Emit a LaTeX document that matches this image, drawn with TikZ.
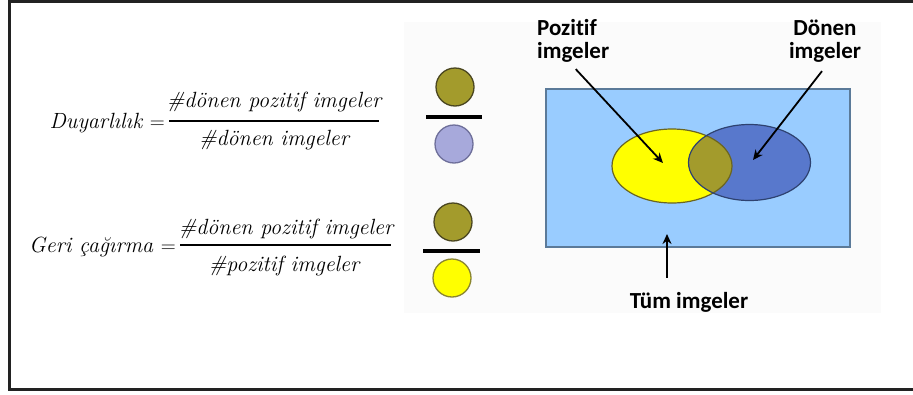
\documentclass[tikz,border=0pt]{standalone}
\usepackage{fontspec}
\newfontfamily\lblfont[Ligatures={NoCommon,NoContextual}]{Carlito}
\usetikzlibrary{arrows.meta}
\definecolor{framegray}{HTML}{222222}
\definecolor{panelbg}{HTML}{FBFBFB}
\definecolor{ovfill}{HTML}{A39B2C}
\definecolor{ovline}{HTML}{4A4620}
\definecolor{lavfill}{HTML}{A7A9DB}
\definecolor{lavline}{HTML}{6E6F9A}
\definecolor{yelfill}{HTML}{FFFF00}
\definecolor{yelline}{HTML}{8A8530}
\definecolor{allfill}{HTML}{99CCFF}
\definecolor{allline}{HTML}{5B7A99}
\definecolor{retfill}{HTML}{5878CC}
\definecolor{retline}{HTML}{2E4270}
\definecolor{posline}{HTML}{6B6520}
\begin{document}
\begin{tikzpicture}[x=1pt,y=-1pt,
  fml/.style={font=\fontsize{22}{24}\selectfont\itshape, inner sep=0pt},
  lbl/.style={font=\lblfont\bfseries\fontsize{23}{23}\selectfont, inner sep=0pt},
  arr/.style={draw=black, line width=1.8pt, -{Stealth[length=10pt,width=9pt]}},
  fbar/.style={line width=1.2pt},
  sbar/.style={line width=4pt},
  token/.style={circle, minimum size=38pt, inner sep=0pt, line width=1.3pt}]
\useasboundingbox (0,0) rectangle (913,394);

% outer frame
\draw[line width=3pt, draw=framegray] (9.5,1.5) rectangle (930,389.5);

% faint panel behind the circles and the Venn diagram
\fill[panelbg] (404,22) rectangle (881,313);

% --- precision ---
\node[fml, anchor=base east] (prlab) at (165,128) {Duyarlılık $=$};
\node[fml, anchor=base] (prnum) at (274,107) {\#dönen pozitif imgeler};
\node[fml, anchor=base] (prden) at (274,145) {\#dönen imgeler};
\draw[fbar] (169,121) -- (379,121);

% --- recall ---
\node[fml, anchor=base east] (rclab) at (176,252) {Geri çağırma $=$};
\node[fml, anchor=base] (rcnum) at (286,234) {\#dönen pozitif imgeler};
\node[fml, anchor=base] (rcden) at (284,271) {\#pozitif imgeler};
\draw[fbar] (180,245) -- (391,245);

% --- coloured fraction tokens ---
\node[token, fill=ovfill, draw=ovline] (t1) at (455,87) {};
\draw[sbar] (426,117) -- (482,117);
\node[token, fill=lavfill, draw=lavline] (t2) at (454,144) {};
\node[token, fill=ovfill, draw=ovline] (t3) at (453,222) {};
\draw[sbar] (423,251) -- (480,251);
\node[token, fill=yelfill, draw=yelline] (t4) at (452,278) {};

% --- Venn diagram ---
\draw[fill=allfill, draw=allline, line width=1.2pt] (546,89) rectangle (850,247);
\fill[yelfill] (672,166) ellipse [x radius=60pt, y radius=37pt];
\fill[retfill] (749.5,162.5) ellipse [x radius=61pt, y radius=38pt];
\begin{scope}
  \clip (672,166) ellipse [x radius=60pt, y radius=37pt];
  \fill[ovfill] (749.5,162.5) ellipse [x radius=61pt, y radius=38pt];
\end{scope}
\draw[posline, line width=1.2pt] (672,166) ellipse [x radius=60pt, y radius=37pt];
\draw[retline, line width=1.2pt] (749.5,162.5) ellipse [x radius=61pt, y radius=38pt];

% labels (a multi-line node sits on the baseline of its last line)
\node[lbl, align=left, anchor=base west] (poz) at (537,58) {Pozitif\\imgeler};
\node[lbl, align=center, anchor=base] (don) at (825,58) {Dönen\\imgeler};
\node[lbl, anchor=base] (tum) at (689,308) {Tüm imgeler};

% arrow tips inside the regions
\coordinate (poztip) at (663,163);
\coordinate (dontip) at (753,160);
\coordinate (tumtip) at (667,234);

\draw[arr] ([shift={(2.5,7)}]poz.south) -- (poztip);
\draw[arr] ([shift={(-3,9)}]don.south) -- (dontip);
\draw[arr] ([shift={(-22,-14)}]tum.north) -- (tumtip);
\end{tikzpicture}
\end{document}
